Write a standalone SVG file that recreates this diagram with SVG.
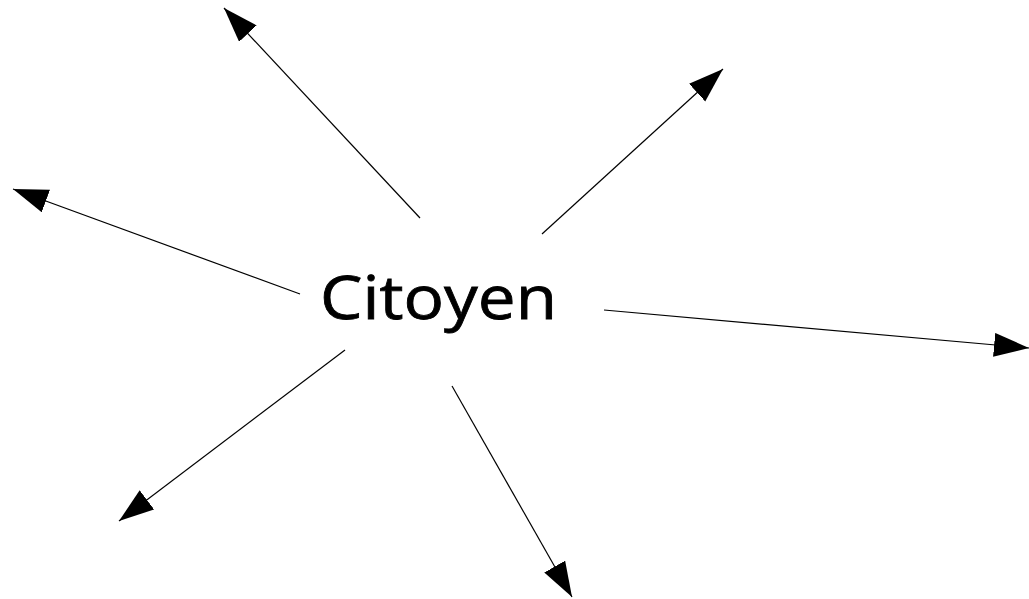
<svg xmlns="http://www.w3.org/2000/svg" width="1029" height="599" viewBox="0 0 1029 599">
<style>
.c{stroke:#000;stroke-width:1.2;fill:none;marker-end:url(#ah)}
.t{font-family:"Open Sans","DejaVu Sans",sans-serif;font-size:60px;fill:#000;stroke:#000;stroke-width:0.8}
</style>
<defs>
<marker id="ah" markerUnits="userSpaceOnUse" markerWidth="38" markerHeight="26" refX="35" refY="12" orient="auto"><path d="M0,0 L35,12 L0,24 z" fill="#000"/></marker>
</defs>
<rect width="1029" height="599" fill="#fff"/>
<g id="connectors">
<line class="c" x1="420" y1="218" x2="224" y2="8"/>
<line class="c" x1="542" y1="234" x2="723" y2="69"/>
<line class="c" x1="300" y1="294" x2="13" y2="189"/>
<line class="c" x1="604" y1="310" x2="1029" y2="348"/>
<line class="c" x1="345" y1="350" x2="119" y2="521"/>
<line class="c" x1="452" y1="386" x2="572" y2="597"/>
</g>
<g id="citoyen">
<text class="t" x="320" y="319" textLength="237" lengthAdjust="spacingAndGlyphs">Citoyen</text>
</g>
</svg>
